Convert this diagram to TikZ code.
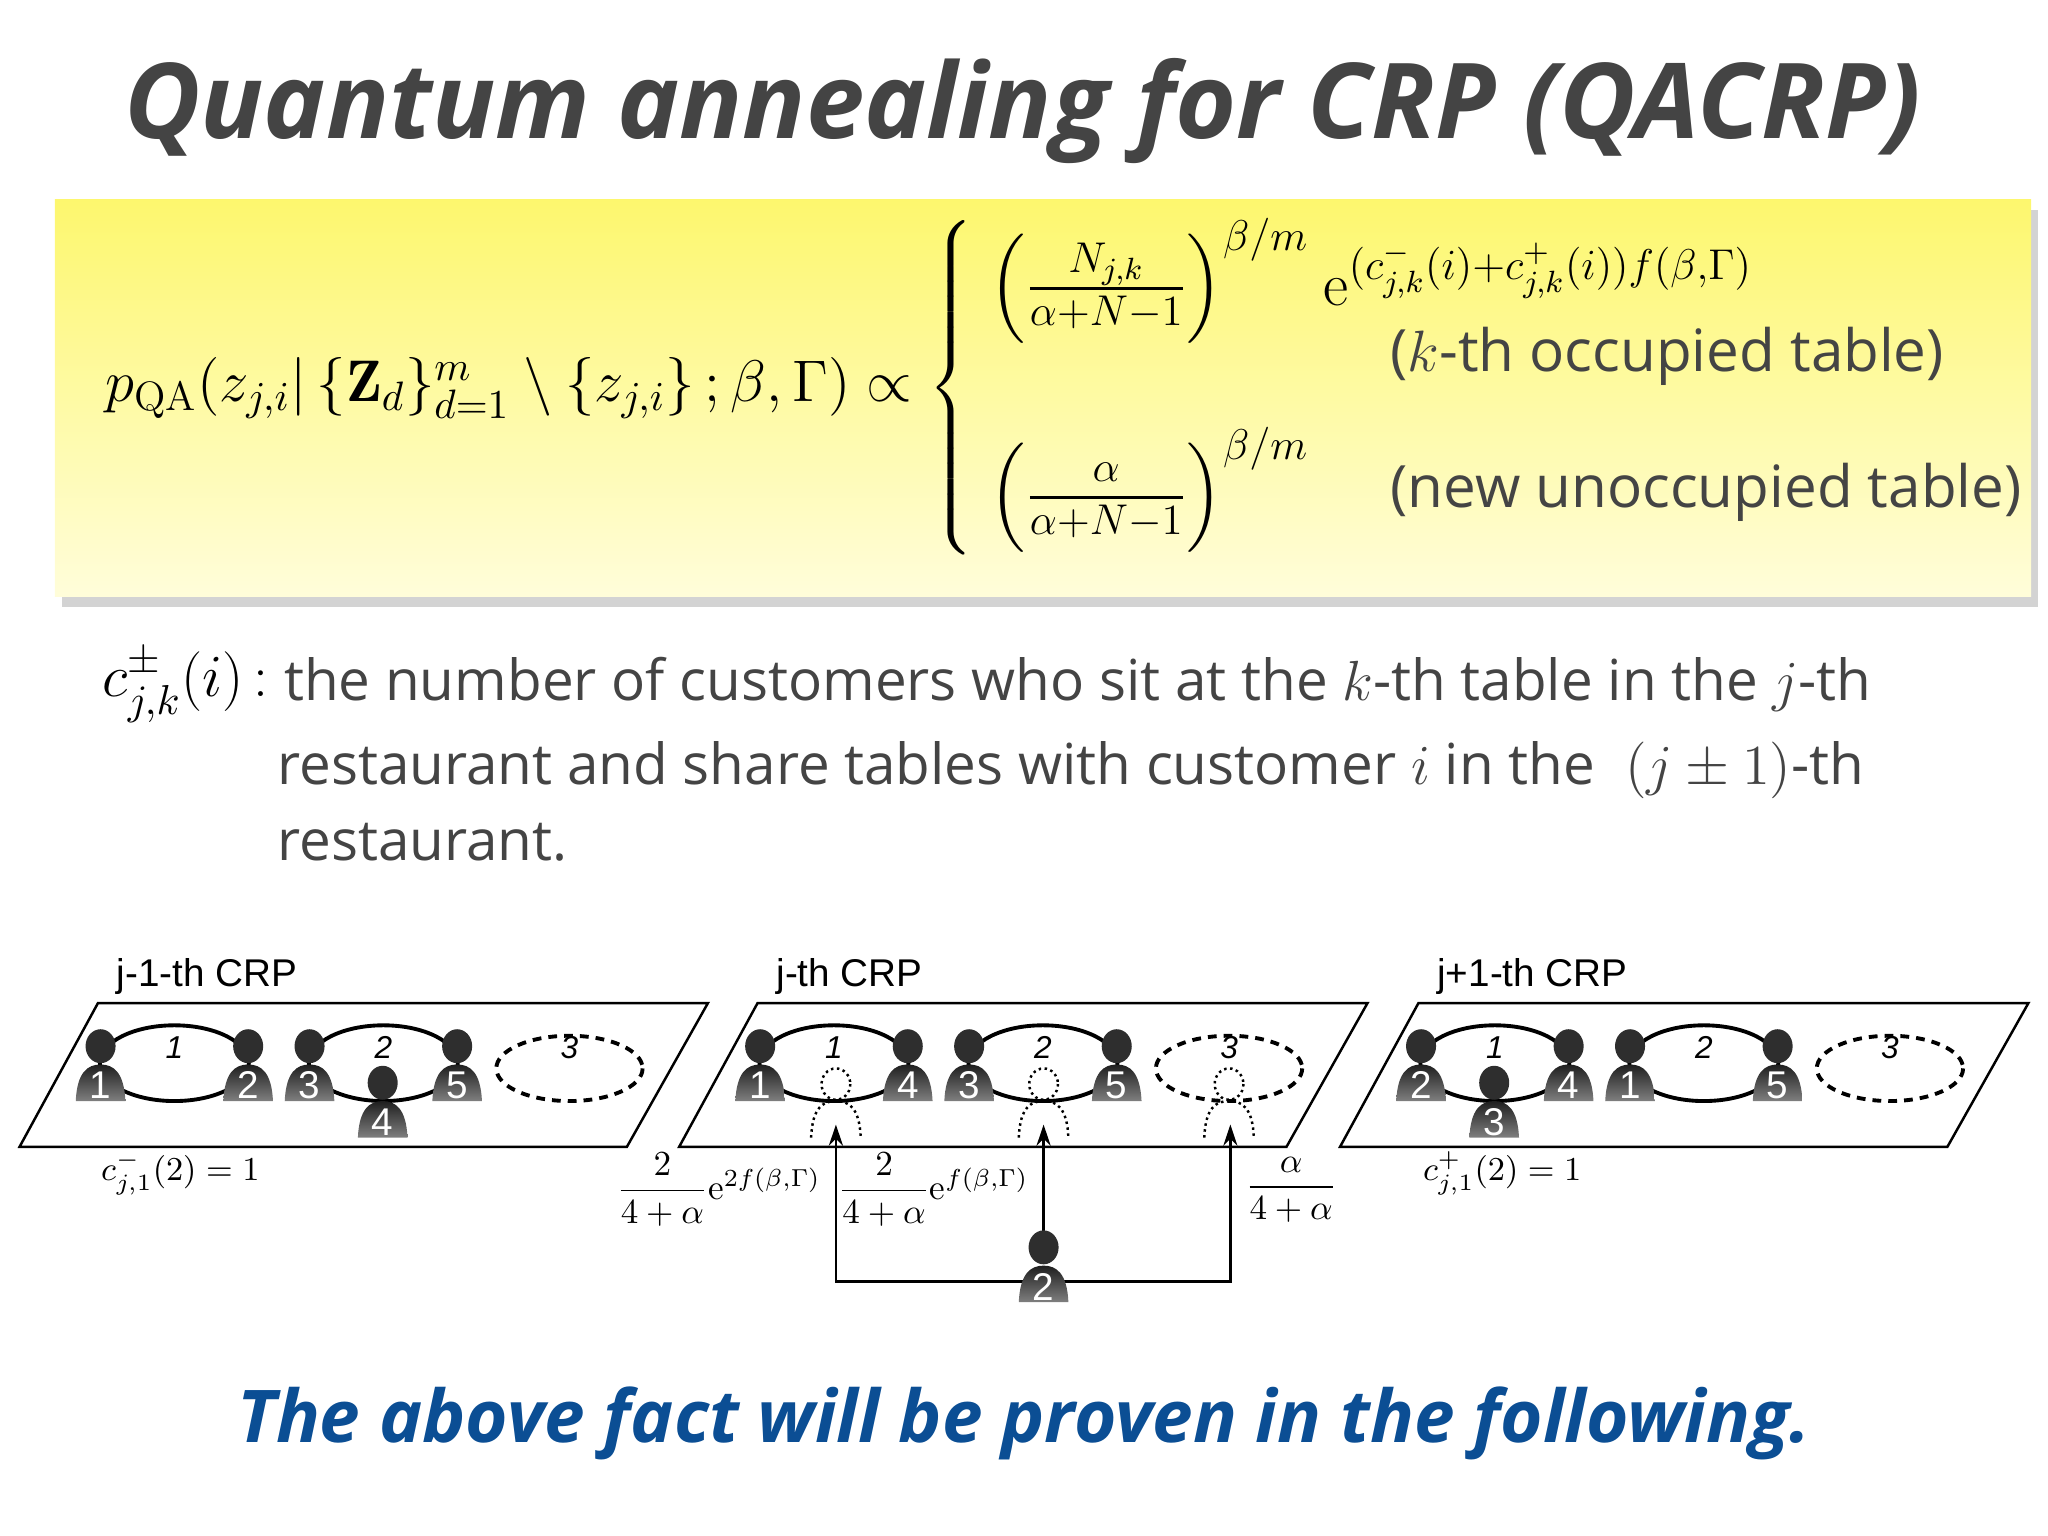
\RequirePackage{fix-cm}
\documentclass[tikz,border=0pt]{standalone}
\usepackage{amsmath}
\usepackage{fontspec}
\newfontfamily\os{Open Sans}
\newfontfamily\lsans{Liberation Sans}
\usetikzlibrary{arrows.meta,shadows}
\newcommand\fsz[1]{\fontsize{#1}{1.2\dimexpr #1pt\relax}\selectfont}
\definecolor{txtgray}{HTML}{444444}
\definecolor{ttlblue}{HTML}{0B4E94}
\tikzset{
  tbl/.style={line width=1.1pt},
  tbldash/.style={line width=1.1pt,dash pattern=on 2.5pt off 2pt},
  plane/.style={line width=0.7pt},
  arr/.style={line width=0.8pt,-{Stealth[length=6pt,width=4pt]}},
  person/.pic={
    \shade[top color=black!88,bottom color=black!50] (-19,42)..controls(-18,20)and(-10,14)..(0,14)..controls(10,14)and(18,20)..(19,42)--cycle;
    \fill[black!82] (0,0) ellipse (11.5 and 13);
    \node[white,font=\lsans\fsz{11}] at (0,30) {\tikzpictext};
  },
  ghost/.pic={
    \draw[densely dotted,line width=0.7pt] (0,0) ellipse (11 and 12);
    \draw[densely dotted,line width=0.7pt] (-19,41)..controls(-18,18)and(-10,13)..(0,13)..controls(10,13)and(18,18)..(19,41);
  },
  tlabel/.style={font=\lsans\itshape\fsz{9}},
  crp/.style={font=\lsans\fsz{11},anchor=west},
  mth/.style={font=\fsz{17.5},inner sep=0pt},
}
\begin{document}
\begin{tikzpicture}[x=0.013061cm,y=-0.013061cm]
\useasboundingbox (0,0) rectangle (1568,1176);
% title
\node[font=\os\bfseries\itshape\fsz{29.8},text=txtgray] (title) at (783,85) {Quantum annealing for CRP (QACRP)};
% yellow box
\shade[top color={rgb,255:red,253;green,247;blue,110},bottom color={rgb,255:red,255;green,253;blue,218},drop shadow={shadow xshift=2pt,shadow yshift=-3pt,opacity=0.35}] (42,153) rectangle (1555,457);
\node[anchor=west,font=\fsz{16.7},inner sep=0pt] (lhs) at (80,297) {$p_{\mathrm{QA}}(z_{j,i}|\,\{\mathbf Z_d\}_{d=1}^m\setminus\{z_{j,i}\}\,;\beta,\Gamma)\propto$};
\node[font=\fsz{15},inner sep=0pt] (brace) at (730,297) {$\left\{\rule[-43pt]{0pt}{86pt}\right.$};
\node[anchor=west,mth] (f1) at (757,215) {$\left(\tfrac{N_{j,k}}{\alpha+N-1}\right)^{\beta/m}$};
\node[anchor=west,mth] (ex) at (1013,210) {$\mathrm e^{(c^-_{j,k}(i)+c^+_{j,k}(i))f(\beta,\Gamma)}$};
\node[anchor=west,font=\os\fsz{16.6},text=txtgray] (r1) at (1055,273) {($k$-th occupied table)};
\node[anchor=west,mth] (f2) at (757,375) {$\left(\tfrac{\vphantom{N_{j,k}}\alpha}{\alpha+N-1}\right)^{\beta/m}$};
\node[anchor=west,font=\os\fsz{16.6},text=txtgray] (r2) at (1055,377) {(new unoccupied table)};
% explanation
\node[anchor=west,font=\fsz{17},inner sep=0pt] (cdef) at (78,525) {$c^{\pm}_{j,k}(i)$\,:};
\node[anchor=base west,font=\os\fsz{16.1},text=txtgray,inner sep=0pt] (l1) at (217,536) {the number of customers who sit at the $k$-th table in the $j$-th};
\node[anchor=base west,font=\os\fsz{16.1},text=txtgray,inner sep=0pt] (l2) at (212,601) {restaurant and share tables with customer $i$ in the \;$(j\pm1)$-th};
\node[anchor=base west,font=\os\fsz{16.1},text=txtgray,inner sep=0pt] (l3) at (212,659) {restaurant.};
% planes
\foreach \dx in {0,505,1011}{
  \draw[plane] (75+\dx,768) -- (542+\dx,768) -- (480+\dx,878) -- (15+\dx,878) -- cycle;
}
\node[crp] (c1) at (80,748) {j-1-th CRP};
\node[crp] (c2) at (585,748) {j-th CRP};
\node[crp] (c3) at (1091,748) {j+1-th CRP};
% tables
\foreach \cx in {133.5,293.5,638.5,798.5,1144.5,1304.5}{\draw[tbl] (\cx,814) ellipse (57 and 29);}
\foreach \cx in {436,941,1447}{\draw[tbldash] (\cx,818) ellipse (56 and 25);}
\foreach \cx/\t in {133.5/1,293.5/2,436/3,638.5/1,798.5/2,941/3,1144.5/1,1304.5/2,1447/3}{\node[tlabel] at (\cx,802) {\t};}
% ghosts
\foreach \cx in {640,799,941}{\pic at (\cx,830) {ghost};}
% people
\foreach \x/\y/\n in {77/801/1,190/801/2,237/801/3,350/801/5,293/829/4,
  582/801/1,695/801/4,742/801/3,855/801/5,
  1088/801/2,1201/801/4,1248/801/1,1361/801/5,1144/829/3}{
  \pic[pic text=\n] at (\x,\y) {person};
}
% connectors
\coordinate (g1) at (640,861);
\coordinate (g2) at (799,861);
\coordinate (g3) at (942,861);
\coordinate (bl) at (785,981);
\coordinate (br) at (813,981);
\coordinate (top) at (799,943);
\draw[arr] (bl) -| (g1);
\draw[arr] (br) -| (g3);
\draw[arr] (top) -- (g2);
\pic[pic text=2] at (799,955) {person};
\node[anchor=east,font=\fsz{10}] (lab1) at (638,911) {$\dfrac{2}{4+\alpha}\mathrm e^{2f(\beta,\Gamma)}$};
\node[anchor=east,font=\fsz{10}] (lab2) at (797,911) {$\dfrac{2}{4+\alpha}\mathrm e^{f(\beta,\Gamma)}$};
\node[anchor=west,font=\fsz{10}] (lab3) at (944,911) {$\dfrac{\alpha}{4+\alpha}$};
\node[anchor=west,font=\fsz{9.5}] (cm) at (68,898) {$c^-_{j,1}(2)=1$};
\node[anchor=west,font=\fsz{9.5}] (cp) at (1080,898) {$c^+_{j,1}(2)=1$};
% bottom line
\node[font=\os\bfseries\itshape\fsz{20.7},text=ttlblue] (bot) at (784,1090) {The above fact will be proven in the following.};
\end{tikzpicture}
\end{document}
